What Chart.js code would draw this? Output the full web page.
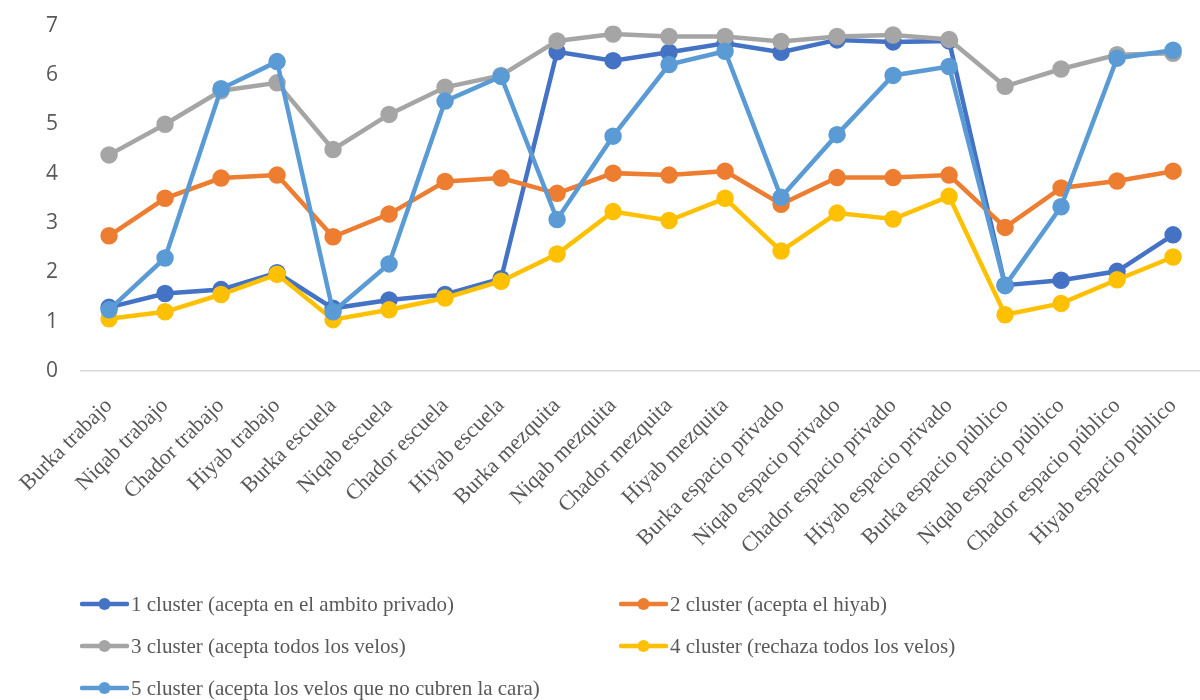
<!DOCTYPE html>
<html>
<head>
<meta charset="utf-8">
<script src="https://cdn.jsdelivr.net/npm/chart.js@4/dist/chart.umd.min.js"></script>
<style>
    html, body { margin: 0; padding: 0; background: #fff; overflow: hidden; }
    #wrap { position: absolute; left: 0; top: -10px; width: 1214px; height: 590px; }
    #legend { position: absolute; left: 0; top: 0; width: 1200px; height: 700px; pointer-events: none; }
    .item { position: absolute; display: flex; align-items: center; font-family: "Liberation Serif", "Times New Roman", serif; font-size: 21px; color: #595959; white-space: nowrap; }
    .item svg { margin-right: 2px; }
</style>
</head>
<body>
<div id="wrap"><canvas id="lineChart"></canvas></div>
<div id="legend"></div>
<script>
const categories = [
    'Burka trabajo', 'Niqab trabajo', 'Chador trabajo', 'Hiyab trabajo',
    'Burka escuela', 'Niqab escuela', 'Chador escuela', 'Hiyab escuela',
    'Burka mezquita', 'Niqab mezquita', 'Chador mezquita', 'Hiyab mezquita',
    'Burka espacio privado', 'Niqab espacio privado', 'Chador espacio privado', 'Hiyab espacio privado',
    'Burka espacio público', 'Niqab espacio público', 'Chador espacio público', 'Hiyab espacio público'
];

const cluster1 = [1.29, 1.57, 1.65, 1.99, 1.27, 1.44, 1.55, 1.87, 6.47, 6.29, 6.46, 6.64, 6.46, 6.71, 6.67, 6.69, 1.74, 1.84, 2.02, 2.76];
const cluster2 = [2.74, 3.50, 3.91, 3.97, 2.72, 3.18, 3.84, 3.91, 3.60, 4.01, 3.97, 4.05, 3.38, 3.92, 3.92, 3.97, 2.91, 3.71, 3.85, 4.05];
const cluster3 = [4.38, 5.00, 5.68, 5.84, 4.49, 5.20, 5.75, 5.99, 6.69, 6.83, 6.78, 6.78, 6.68, 6.78, 6.81, 6.72, 5.77, 6.12, 6.41, 6.44];
const cluster4 = [1.06, 1.20, 1.55, 1.96, 1.04, 1.24, 1.48, 1.82, 2.37, 3.23, 3.05, 3.50, 2.43, 3.20, 3.08, 3.54, 1.14, 1.37, 1.85, 2.31];
const cluster5 = [1.24, 2.29, 5.72, 6.27, 1.20, 2.17, 5.47, 5.97, 3.07, 4.76, 6.21, 6.48, 3.52, 4.79, 5.99, 6.17, 1.73, 3.33, 6.34, 6.50];

const seriesNames = [
    '1 cluster (acepta en el ambito privado)',
    '2 cluster (acepta el hiyab)',
    '3 cluster (acepta todos los velos)',
    '4 cluster (rechaza todos los velos)',
    '5 cluster (acepta los velos que no cubren la cara)'
];
const seriesColors = ['#4472C4', '#ED7D31', '#A5A5A5', '#FFC000', '#5B9BD5'];
const seriesValues = [cluster1, cluster2, cluster3, cluster4, cluster5];

const yTicks = [0, 1, 2, 3, 4, 5, 6, 7];

// later series drawn on top, like the spreadsheet
const datasets = seriesValues.map((values, i) => ({
    label: seriesNames[i],
    data: values,
    borderColor: seriesColors[i],
    backgroundColor: seriesColors[i],
    pointBackgroundColor: seriesColors[i],
    pointBorderColor: seriesColors[i],
    borderWidth: 4.5,
    pointRadius: 6.5,
    pointHoverRadius: 6.5,
    tension: 0,
    order: seriesValues.length - 1 - i
}));

const ctx = document.getElementById('lineChart').getContext('2d');
const chart = new Chart(ctx, {
    type: 'line',
    data: { labels: categories, datasets: datasets },
    options: {
        responsive: true,
        maintainAspectRatio: false,
        animation: false,
        layout: { padding: { top: 7, right: 0, bottom: 0, left: 0 } },
        plugins: {
            legend: { display: false },
            tooltip: { enabled: false }
        },
        scales: {
            x: {
                offset: true,
                grid: { display: false, drawTicks: false },
                border: { display: true, color: '#D9D9D9', width: 1.5 },
                ticks: {
                    autoSkip: false,
                    minRotation: 45,
                    maxRotation: 45,
                    padding: 22,
                    color: '#595959',
                    font: { family: '"Liberation Serif", "Times New Roman", serif', size: 22 }
                },
                afterFit: function(scale) { scale.height = 209; }
            },
            y: {
                min: 0,
                max: 7,
                afterBuildTicks: function(scale) { scale.ticks = yTicks.map(v => ({ value: v })); },
                grid: { display: false, drawTicks: false },
                border: { display: false },
                ticks: {
                    padding: 23,
                    color: '#595959',
                    font: { family: '"Open Sans", "Liberation Sans", sans-serif', size: 21 }
                },
                afterFit: function(scale) { scale.width = 80; }
            }
        }
    }
});

// two-column legend under the chart
function buildLegend() {
    const legend = document.getElementById('legend');
    const colX = [80, 619];
    const rowY = [604, 646, 688];
    seriesNames.forEach((name, i) => {
        const item = document.createElement('div');
        item.className = 'item';
        item.style.left = colX[i % 2] + 'px';
        item.style.top = (rowY[Math.floor(i / 2)] - 14) + 'px';
        item.style.height = '28px';
        const c = seriesColors[i];
        item.innerHTML = `<svg width="49" height="20"><line x1="2" y1="10" x2="47" y2="10" stroke="${c}" stroke-width="4.5" stroke-linecap="round"/><circle cx="24.5" cy="10" r="6" fill="${c}"/></svg><span>${name}</span>`;
        legend.appendChild(item);
    });
}
buildLegend();
</script>
</body>
</html>
